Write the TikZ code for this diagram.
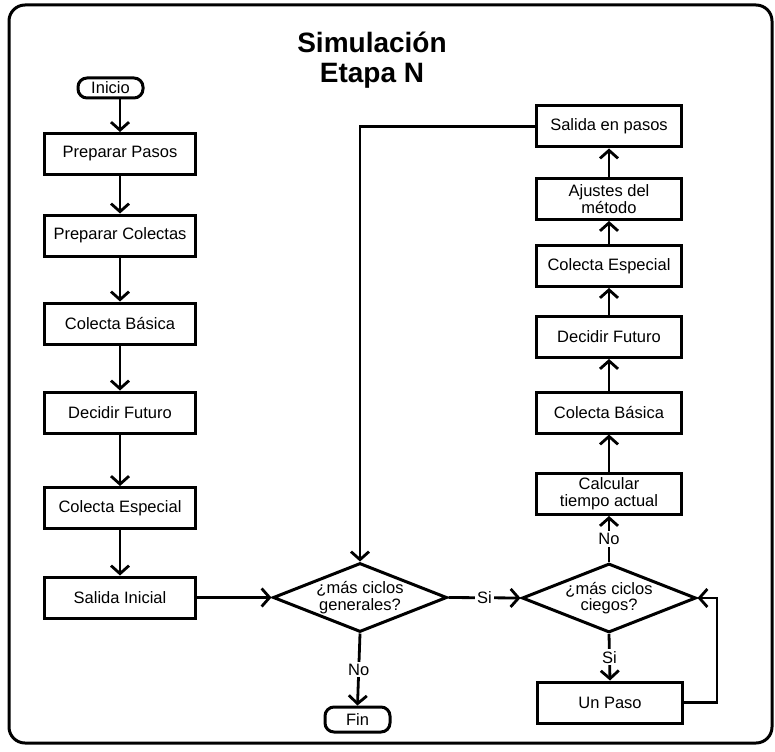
\documentclass[tikz,border=0pt]{standalone}
\usepackage{fontspec}
\setmainfont{Liberation Sans}
\usetikzlibrary{arrows.meta,shapes.geometric}
\begin{document}
\begin{tikzpicture}[x=1pt,y=-1pt,
  every node/.style={font=\fontsize{16.5}{16.7}\selectfont},
  proc/.style={draw,line width=3pt,rectangle,minimum height=41pt,inner sep=0pt,align=center},
  lbox/.style={proc,minimum width=151pt},
  rbox/.style={proc,minimum width=145pt},
  term/.style={draw,line width=3pt,rectangle,rounded corners=9pt,minimum width=65pt,inner sep=0pt},
  decide/.style={draw,line width=3pt,diamond,minimum width=174pt,minimum height=69pt,inner sep=0pt},
  arr/.style={line width=2.8pt,-{Straight Barb[length=8pt,width=18pt,line width=2.8pt]}},
  lbl/.style={fill=white,inner sep=2pt}]
\useasboundingbox (0,0) rectangle (775,751);
% frame
\draw[line width=3pt,rounded corners=16pt] (9,5) rectangle (772,743);
% title
\node[font=\fontsize{28}{30}\selectfont\bfseries,align=center] (title) at (372,60) {Simulación\\Etapa N};

% left column
\node[term,minimum height=20pt] (inicio) at (110.5,88) {Inicio};
\node[lbox] (pp) at (120,154) {Preparar Pasos};
\node[lbox] (pc) at (120,235.5) {Preparar Colectas};
\node[lbox] (cb) at (120,323.5) {Colecta Básica};
\node[lbox] (df) at (120,412.5) {Decidir Futuro};
\node[lbox] (ce) at (120,508) {Colecta Especial};
\node[lbox] (si) at (120,597.5) {Salida Inicial};

% decisions and end
\node[decide] (d1) at (360,597.5) {};
\node[align=center] (d1t) at (d1.center) {¿más ciclos\\generales?};
\node[term,minimum height=25pt] (fin) at (357.5,719.5) {Fin};
\node[decide] (d2) at (609,598) {};
\node[align=center] (d2t) at (d2.center) {¿más ciclos\\ciegos?};

% right column
\node[rbox] (sp) at (609,126.5) {Salida en pasos};
\node[rbox] (am) at (609,199) {Ajustes del\\método};
\node[rbox] (ce2) at (609,266) {Colecta Especial};
\node[rbox] (df2) at (609,337) {Decidir Futuro};
\node[rbox] (cb2) at (609,412.5) {Colecta Básica};
\node[rbox] (ct) at (609,494) {Calcular\\tiempo actual};
\node[rbox] (up) at (610,702.5) {Un Paso};
\coordinate (loop) at (717,702.5);

% left column flow
\draw[arr] (inicio.south -| pp.north) -- (pp.north);
\draw[arr] (pp) -- (pc);
\draw[arr] (pc) -- (cb);
\draw[arr] (cb) -- (df);
\draw[arr] (df) -- (ce);
\draw[arr] (ce) -- (si);
\draw[arr] (si.east) -- (d1.west);

% main decision
\draw[arr] (d1.south) -- node[lbl] {No} (fin.north);
\draw[arr] (d1.east) -- node[lbl] {Si} (d2.west);

% inner loop
\draw[arr] (d2.south) -- node[lbl] {Si} (up.north);
\draw[arr] (up.east) -- (loop) |- (d2.east);
\draw[arr] (d2.north) -- node[lbl] {No} (ct.south);
\draw[arr] (ct) -- (cb2);
\draw[arr] (cb2) -- (df2);
\draw[arr] (df2) -- (ce2);
\draw[arr] (ce2) -- (am);
\draw[arr] (am) -- (sp);
\draw[arr] (sp.west) -| (d1.north);
\end{tikzpicture}
\end{document}
